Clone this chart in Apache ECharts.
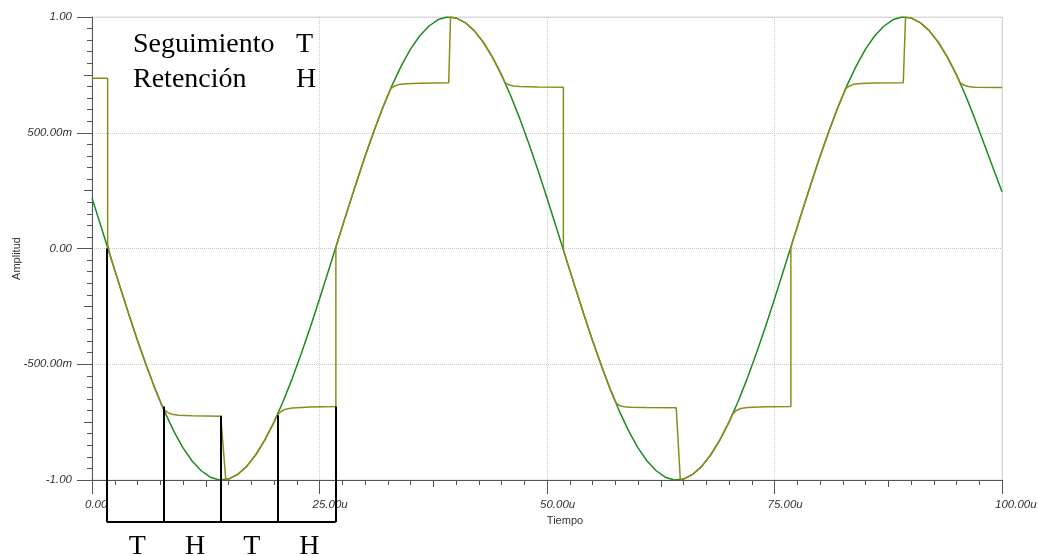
<!DOCTYPE html>
<html>
<head>
<meta charset="utf-8">
<script src="https://cdn.jsdelivr.net/npm/echarts@6/dist/echarts.min.js"></script>
<style>
html,body{margin:0;padding:0;background:#fff;}
#chart{width:1038px;height:556px;}
</style>
</head>
<body>
<div id="chart"></div>
<script>
// ---- data ----
const xTickValues = [0, 25, 50, 75, 100];
const xTickLabels = ['0.00', '25.00u', '50.00u', '75.00u', '100.00u'];
const yTickValues = [-1, -0.5, 0, 0.5, 1];
const yTickLabels = ['-1.00', '-500.00m', '0.00', '500.00m', '1.00'];

// input signal (green), sampled every 1u
const inputT = [0,1,2,3,4,5,6,7,8,9,10,11,12,13,14,15,16,17,18,19,20,21,22,23,24,25,26,27,28,29,30,31,32,33,34,35,36,37,38,39,40,41,42,43,44,45,46,47,48,49,50,51,52,53,54,55,56,57,58,59,60,61,62,63,64,65,66,67,68,69,70,71,72,73,74,75,76,77,78,79,80,81,82,83,84,85,86,87,88,89,90,91,92,93,94,95,96,97,98,99,100];
const inputY = [0.218,0.094,-0.031,-0.156,-0.279,-0.397,-0.509,-0.613,-0.707,-0.790,-0.861,-0.918,-0.960,-0.988,-1.000,-0.996,-0.976,-0.941,-0.891,-0.827,-0.750,-0.661,-0.562,-0.454,-0.339,-0.218,-0.094,
  0.031,0.156,0.279,0.397,0.509,0.613,0.707,0.790,0.861,0.918,0.960,0.988,1.000,0.996,0.976,0.941,0.891,0.827,0.750,0.661,0.562,0.454,0.339,0.218,0.094,
  -0.031,-0.156,-0.279,-0.397,-0.509,-0.613,-0.707,-0.790,-0.861,-0.918,-0.960,-0.988,-1.000,-0.996,-0.976,-0.941,-0.891,-0.827,-0.750,-0.661,-0.562,-0.454,-0.339,-0.218,-0.094,
  0.031,0.156,0.279,0.397,0.509,0.613,0.707,0.790,0.861,0.918,0.960,0.988,1.000,0.996,0.976,0.941,0.891,0.827,0.750,0.661,0.562,0.456,0.350,0.245];

// sample-and-hold output (olive)
const outputT = [0,1.72,1.72,2,3,4,5,6,7,7.85,8.3,8.8,9.5,11,14.15,14.7,15,16,17,18,19,20,20.35,20.8,21.3,22,24,26.8,26.8,27,28,29,30,31,32,32.8,33.2,33.7,34.5,36,39.2,39.4,40,41,42,43,44,45,45.4,45.8,46.3,47,49,51.8,51.8,52,53,54,55,56,57,57.6,58,58.5,59.2,61,64.2,64.65,65,66,67,68,69,70,70.4,70.8,71.3,72,74,76.8,76.8,77,78,79,80,81,82,82.8,83.2,83.7,84.5,86,89.15,89.4,90,91,92,93,94,95,95.4,95.8,96.3,97,100];
const outputY = [0.735,0.735,0.02,-0.031,-0.156,-0.279,-0.397,-0.509,-0.613,-0.694,-0.708,-0.716,-0.720,-0.722,-0.725,-0.998,-0.996,-0.976,-0.941,-0.891,-0.827,-0.750,-0.720,-0.703,-0.694,-0.689,-0.685,-0.682,0.006,0.031,0.156,0.279,0.397,0.509,0.613,0.689,0.701,0.708,0.712,0.714,0.716,1.000,0.996,0.976,0.941,0.891,0.827,0.750,0.716,0.707,0.702,0.700,0.698,0.697,-0.006,-0.031,-0.156,-0.279,-0.397,-0.509,-0.613,-0.668,-0.679,-0.684,-0.686,-0.687,-0.688,-0.999,-0.996,-0.976,-0.941,-0.891,-0.827,-0.750,-0.716,-0.700,-0.691,-0.687,-0.684,-0.683,0.006,0.031,0.156,0.279,0.397,0.509,0.613,0.689,0.701,0.709,0.713,0.715,0.716,1.000,0.996,0.976,0.941,0.891,0.827,0.750,0.716,0.706,0.700,0.697,0.695];

// black annotation: phase boundaries (time), top of each marker, bottom bar level
const phaseEdgesT = [1.62, 7.84, 14.14, 20.36, 26.78];
const phaseEdgesTop = [0.0, -0.683, -0.723, -0.720, -0.683];
const phaseBarLevel = -1.181;
const phaseNames = ['T', 'H', 'T', 'H'];
const phaseNameT = [4.98, 11.32, 17.55, 23.88];
const phaseNameLevel = -1.287;

const legendRows = [['Seguimiento', 'T'], ['Retención', 'H']];

// ---- build ----
const inputData = inputT.map((t, i) => [t, inputY[i]]);
const outputData = outputT.map((t, i) => [t, outputY[i]]);
const annLines = phaseEdgesT.map((t, i) => ({coords: [[t, phaseEdgesTop[i]], [t, phaseBarLevel]]}));
annLines.push({coords: [[phaseEdgesT[0], phaseBarLevel], [phaseEdgesT[phaseEdgesT.length - 1], phaseBarLevel]]});
const nameData = phaseNames.map((n, i) => ({name: n, value: [phaseNameT[i], phaseNameLevel]}));

const axisColor = '#555';
const labelFont = {fontFamily: 'Liberation Sans, Arial, sans-serif', fontSize: 11.5, fontStyle: 'italic', color: '#333'};
const serif = 'Liberation Serif, "Times New Roman", serif';

const chart = echarts.init(document.getElementById('chart'), null, {renderer: 'canvas'});
chart.setOption({
  animation: false,
  backgroundColor: '#fff',
  grid: {left: 92, right: 36, top: 17, bottom: 76, show: true, borderColor: '#dadada', borderWidth: 1,
         containLabel: false, outerBoundsMode: 'none'},
  xAxis: [{
    type: 'value', min: 0, max: 100, interval: 25, position: 'bottom',
    axisLine: {show: true, onZero: false, lineStyle: {color: axisColor, width: 1}},
    axisTick: {show: true, length: 14, lineStyle: {color: axisColor}},
    minorTick: {show: true, splitNumber: 10, length: 5, lineStyle: {color: axisColor}},
    splitLine: {show: true, lineStyle: {color: '#c8c8c8', type: 'dotted'}},
    axisLabel: Object.assign({margin: 19, align: 'left', padding: [0, 0, 0, -7],
      formatter: v => { const k = xTickValues.indexOf(v); return k >= 0 ? xTickLabels[k] : ''; }}, labelFont),
    name: 'Tiempo', nameLocation: 'middle', nameGap: 35, nameMoveOverlap: false,
    nameTextStyle: {fontFamily: 'Liberation Sans, Arial, sans-serif', fontSize: 11, color: '#333', padding: [0, 0, 0, 36]}
  }, {
    type: 'value', min: 0, max: 100, interval: 12.5, position: 'bottom',
    axisLine: {show: false, onZero: false}, axisLabel: {show: false}, splitLine: {show: false},
    axisTick: {show: true, length: 7, lineStyle: {color: axisColor}}
  }],
  yAxis: [{
    type: 'value', min: -1, max: 1, interval: 0.5, position: 'left',
    axisLine: {show: true, onZero: false, lineStyle: {color: axisColor, width: 1}},
    axisTick: {show: true, length: 15, lineStyle: {color: axisColor}},
    minorTick: {show: true, splitNumber: 10, length: 5, lineStyle: {color: axisColor}},
    splitLine: {show: true, lineStyle: {color: '#c8c8c8', type: 'dotted'}},
    axisLabel: Object.assign({margin: 20,
      formatter: v => { const k = yTickValues.indexOf(v); return k >= 0 ? yTickLabels[k] : ''; }}, labelFont),
    name: 'Amplitud', nameLocation: 'middle', nameGap: 70, nameMoveOverlap: false,
    nameTextStyle: {fontFamily: 'Liberation Sans, Arial, sans-serif', fontSize: 11, color: '#333', padding: [0, 20, 0, 0]}
  }, {
    type: 'value', min: -1, max: 1, interval: 0.25, position: 'left',
    axisLine: {show: false, onZero: false}, axisLabel: {show: false}, splitLine: {show: false},
    axisTick: {show: true, length: 8, lineStyle: {color: axisColor}}
  }],
  series: [{
    type: 'line', name: 'input', data: inputData, showSymbol: false, symbol: 'none',
    lineStyle: {color: '#1f8a1f', width: 1.5}, z: 2
  }, {
    type: 'line', name: 'output', data: outputData, showSymbol: false, symbol: 'none',
    lineStyle: {color: '#8c8c1c', width: 1.5}, z: 3
  }, {
    type: 'lines', coordinateSystem: 'cartesian2d', clip: false, data: annLines,
    lineStyle: {color: '#000', width: 2, opacity: 1}, z: 4
  }, {
    type: 'scatter', data: nameData, clip: false, symbolSize: 1, itemStyle: {color: 'rgba(0,0,0,0)'},
    label: {show: true, position: 'inside', formatter: p => p.name, fontFamily: serif, fontSize: 28, color: '#000', opacity: 1}, z: 5
  }],
  graphic: legendRows.flatMap((row, i) => [
    {type: 'text', left: 133, top: 31 + i * 35, style: {text: row[0], font: '28px ' + serif, fill: '#000'}},
    {type: 'text', left: 296, top: 31 + i * 35, style: {text: row[1], font: '28px ' + serif, fill: '#000'}}
  ])
});
</script>
</body>
</html>
